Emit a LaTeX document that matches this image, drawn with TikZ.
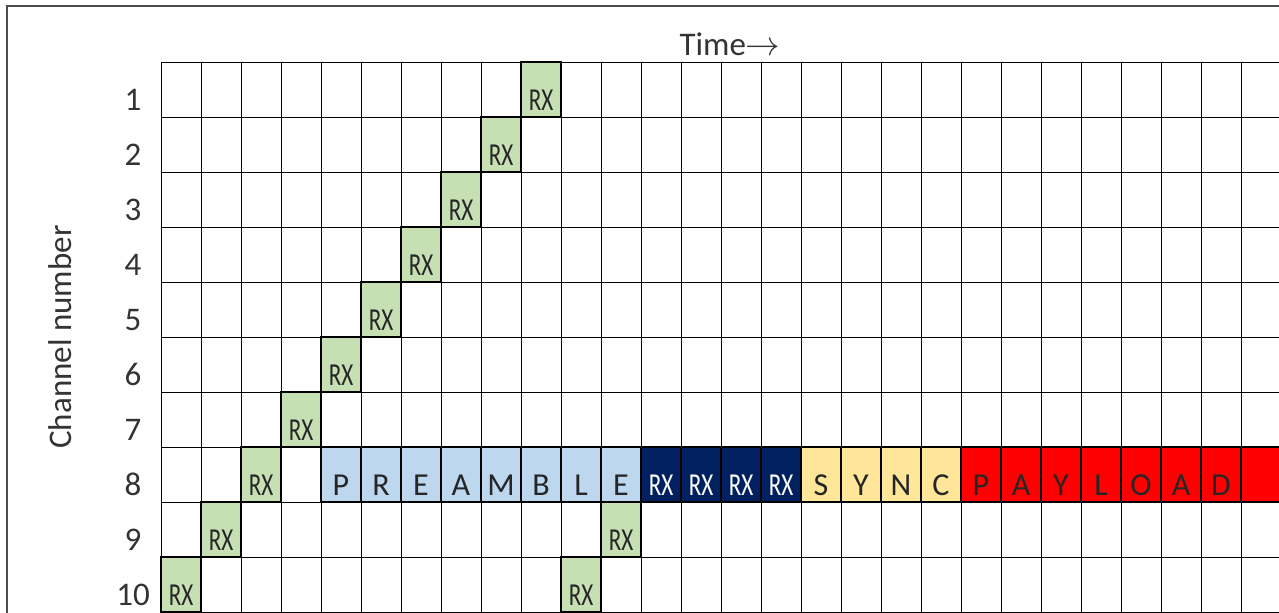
\documentclass[tikz,border=0pt]{standalone}
\usepackage{fontspec}
\setmainfont{Carlito}
\usetikzlibrary{positioning}

\definecolor{rxgreen}{HTML}{C6E0B4}
\definecolor{preblue}{HTML}{BDD7EE}
\definecolor{rxnavy}{HTML}{002060}
\definecolor{syncyellow}{HTML}{FFE699}
\definecolor{payred}{HTML}{FF0000}

\tikzset{
    slot/.style={draw=black, line width=0.6pt, inner sep=0pt, outer sep=0pt,
        minimum width=20pt, minimum height=27.5pt, text height=24pt, text depth=3.5pt,
        anchor=north west, font=\fontsize{16}{18}\selectfont, text=black!85},
    rxslot/.style={slot, fill=rxgreen},
    preslot/.style={slot, fill=preblue},
    navyslot/.style={slot, fill=rxnavy, text=white},
    syncslot/.style={slot, fill=syncyellow},
    payslot/.style={slot, fill=payred},
    chlabel/.style={anchor=base, font=\fontsize{16.5}{18}\selectfont, text=black!80},
}
\newcommand{\rxtext}{\scalebox{0.72}[1]{RX}}

\begin{document}
\begin{tikzpicture}[x=0.5pt, y=-0.5pt]
    \useasboundingbox (0,0) rectangle (1279,612);
    \clip (0,0) rectangle (1279,612);
    % outer frame
    \draw[black!70, line width=0.75pt] (7,614) -- (7,6) -- (1281,6);
    % grid
    \foreach \c in {0,...,28}
        \draw[line width=0.5pt] ({161+40*\c},62) -- ({161+40*\c},614);
    \foreach \r in {0,...,10}
        \draw[line width=0.5pt] (161,{62+55*\r}) -- (1281,{62+55*\r});
    % channel numbers
    \foreach \r in {1,...,10}
        \node[chlabel] (ch\r) at (133,{62+55*\r-7}) {\r};
    \node[rotate=90, font=\fontsize{16.5}{18}\selectfont, text=black!80] (chname) at (60,337) {Channel number};
    \node[anchor=base, font=\fontsize{16.5}{18}\selectfont, text=black!80] (time) at (730,55) {Time$\rightarrow$};
    % hopping receivers
    \foreach \r/\c in {1/9,2/8,3/7,4/6,5/5,6/4,7/3,8/2,9/1,10/0}
        \node[rxslot] (rx\r) at ({161+40*\c},{62+55*(\r-1)}) {\rxtext};
    \node[rxslot] (rxb9) at (601,502) {\rxtext};
    \node[rxslot] (rxb10) at (561,557) {\rxtext};
    % frame on channel 8
    \foreach \l [count=\i from 4] in {P,R,E,A,M,B,L,E}
        \node[preslot] (pre\i) at ({161+40*\i},447) {\l};
    \foreach \i in {12,...,15}
        \node[navyslot] (lock\i) at ({161+40*\i},447) {\rxtext};
    \foreach \l [count=\i from 16] in {S,Y,N,C}
        \node[syncslot] (sync\i) at ({161+40*\i},447) {\l};
    \foreach \l [count=\i from 20] in {P,A,Y,L,O,A,D,{}}
        \node[payslot] (pay\i) at ({161+40*\i},447) {\l};
\end{tikzpicture}
\end{document}
